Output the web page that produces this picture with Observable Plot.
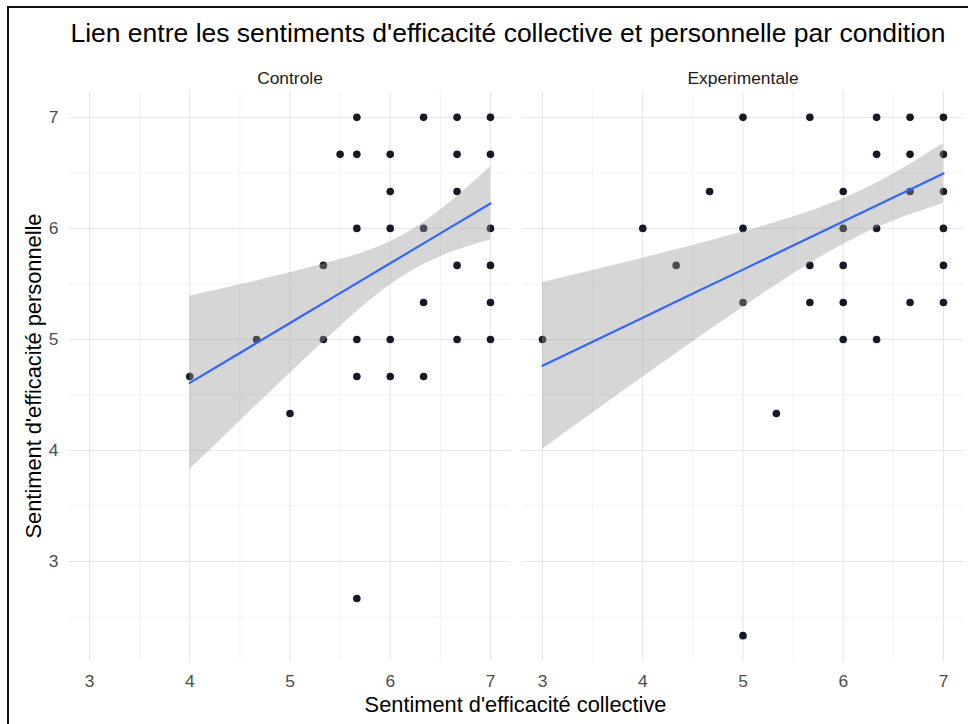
<!DOCTYPE html>
<html>
<head>
<meta charset="utf-8">
<script src="https://cdn.jsdelivr.net/npm/d3@7"></script>
<script src="https://cdn.jsdelivr.net/npm/@observablehq/plot@0.6"></script>
<style>
  body { margin: 0; background: #fff; }
  #figure { position: relative; width: 968px; height: 724px; overflow: hidden; background: #fff; }
  #figure svg { position: absolute; left: 0; top: 0; }
  #frame { position: absolute; left: 7px; top: 6px; right: -10px; bottom: -10px;
           border-top: 2px solid #111; border-left: 2px solid #111; pointer-events: none; }
</style>
</head>
<body>
<div id="figure"><div id="frame"></div></div>
<script>
// Facet order
const conditions = ["Controle", "Experimentale"];

// Individual scores, condition « Controle »
const ctrlCollective = [
  5.667, 6.333, 6.667, 7,
  5.5, 5.667, 6, 6.667, 7,
  6, 6.667,
  5.667, 6, 6.333, 7,
  5.333, 6.667, 7,
  6.333, 7,
  4.667, 5.333, 5.667, 6, 6.667, 7,
  4, 5.667, 6, 6.333,
  5,
  5.667
];
const ctrlPersonnelle = [
  7, 7, 7, 7,
  6.667, 6.667, 6.667, 6.667, 6.667,
  6.333, 6.333,
  6, 6, 6, 6,
  5.667, 5.667, 5.667,
  5.333, 5.333,
  5, 5, 5, 5, 5, 5,
  4.667, 4.667, 4.667, 4.667,
  4.333,
  2.667
];

// Individual scores, condition « Experimentale »
const expCollective = [
  5, 5.667, 6.333, 6.667, 7,
  6.333, 6.667, 7,
  4.667, 6, 6.667, 7,
  4, 5, 6, 6.333, 7,
  4.333, 5.667, 6, 7,
  5, 5.667, 6, 6.667, 7,
  3, 6, 6.333,
  5.333,
  5
];
const expPersonnelle = [
  7, 7, 7, 7, 7,
  6.667, 6.667, 6.667,
  6.333, 6.333, 6.333, 6.333,
  6, 6, 6, 6, 6,
  5.667, 5.667, 5.667, 5.667,
  5.333, 5.333, 5.333, 5.333, 5.333,
  5, 5, 5,
  4.333,
  2.333
];

// Linear fit with its 95 % confidence band
const ctrlFitX    = [4, 4.5, 5, 5.5, 6, 6.5, 7];
const ctrlFitY    = [4.609, 4.878, 5.148, 5.417, 5.686, 5.955, 6.225];
const ctrlBandLow = [3.829, 4.264, 4.696, 5.115, 5.492, 5.746, 5.895];
const ctrlBandHigh= [5.389, 5.492, 5.600, 5.719, 5.880, 6.164, 6.555];

const expFitX     = [3, 3.5, 4, 4.5, 5, 5.5, 6, 6.5, 7];
const expFitY     = [4.763, 4.980, 5.196, 5.413, 5.629, 5.846, 6.062, 6.279, 6.495];
const expBandLow  = [4.012, 4.338, 4.660, 4.979, 5.291, 5.590, 5.856, 6.067, 6.225];
const expBandHigh = [5.514, 5.622, 5.732, 5.847, 5.967, 6.102, 6.268, 6.491, 6.765];

// Axis ticks and grid
const xTicks = [3, 4, 5, 6, 7];
const yTicks = [3, 4, 5, 6, 7];
const xMinor = [3.5, 4.5, 5.5, 6.5];
const yMinor = [2.5, 3.5, 4.5, 5.5, 6.5];

const titleText = "Lien entre les sentiments d'efficacité collective et personnelle par condition";
const xTitle = "Sentiment d'efficacité collective";
const yTitle = "Sentiment d'efficacité personnelle";

// Tables
const points = [
  ...ctrlCollective.map((c, i) => ({condition: conditions[0], collective: c, personnelle: ctrlPersonnelle[i]})),
  ...expCollective.map((c, i) => ({condition: conditions[1], collective: c, personnelle: expPersonnelle[i]}))
];
const fits = [
  ...ctrlFitX.map((x, i) => ({condition: conditions[0], x, fit: ctrlFitY[i], low: ctrlBandLow[i], high: ctrlBandHigh[i]})),
  ...expFitX.map((x, i) => ({condition: conditions[1], x, fit: expFitY[i], low: expBandLow[i], high: expBandHigh[i]}))
];

const font = "'Liberation Sans', Arial, Helvetica, sans-serif";
const integer = d => String(d);

const chart = Plot.plot({
  width: 968,
  height: 724,
  marginLeft: 68,
  marginRight: 5,
  marginTop: 91,
  marginBottom: 63,
  style: {fontFamily: font, fontSize: "17.4px", background: "transparent", overflow: "visible"},
  fx: {domain: conditions, paddingInner: 0.0265, paddingOuter: 0},
  x: {domain: [2.8, 7.2]},
  y: {domain: [2.1, 7.233]},
  marks: [
    Plot.gridX(xMinor, {stroke: "#f2f2f2", strokeOpacity: 1, strokeWidth: 1}),
    Plot.gridY(yMinor, {stroke: "#f2f2f2", strokeOpacity: 1, strokeWidth: 1}),
    Plot.gridX(xTicks, {stroke: "#e6e6e6", strokeOpacity: 1, strokeWidth: 1}),
    Plot.gridY(yTicks, {stroke: "#e6e6e6", strokeOpacity: 1, strokeWidth: 1}),
    Plot.axisX(xTicks, {tickSize: 0, tickPadding: 13, tickFormat: integer, color: "#4d4d4d", label: null}),
    Plot.axisY(yTicks, {tickSize: 0, tickPadding: 11, tickFormat: integer, color: "#4d4d4d", label: null}),
    Plot.axisFx({anchor: "top", tickSize: 0, tickPadding: 8, color: "#1a1a1a", label: null}),
    Plot.dot(points, {x: "collective", y: "personnelle", fx: "condition", r: 3.8, fill: "#151a26", stroke: "none"}),
    Plot.areaY(fits, {x: "x", y1: "low", y2: "high", fx: "condition", fill: "#999999", fillOpacity: 0.4, curve: "natural"}),
    Plot.line(fits, {x: "x", y: "fit", fx: "condition", stroke: "#3366ff", strokeWidth: 2.2, curve: "linear"})
  ]
});

const svg = d3.select(chart);
svg.append("text")
  .attr("x", 508).attr("y", 42)
  .attr("text-anchor", "middle")
  .attr("font-family", font).attr("font-size", 26.5).attr("fill", "#000")
  .text(titleText);
svg.append("text")
  .attr("x", 515.5).attr("y", 712)
  .attr("text-anchor", "middle")
  .attr("font-family", font).attr("font-size", 21.8).attr("fill", "#000")
  .text(xTitle);
svg.append("text")
  .attr("transform", "translate(41,376) rotate(-90)")
  .attr("text-anchor", "middle")
  .attr("font-family", font).attr("font-size", 21.8).attr("fill", "#000")
  .text(yTitle);

document.getElementById("figure").prepend(chart);
</script>
</body>
</html>
